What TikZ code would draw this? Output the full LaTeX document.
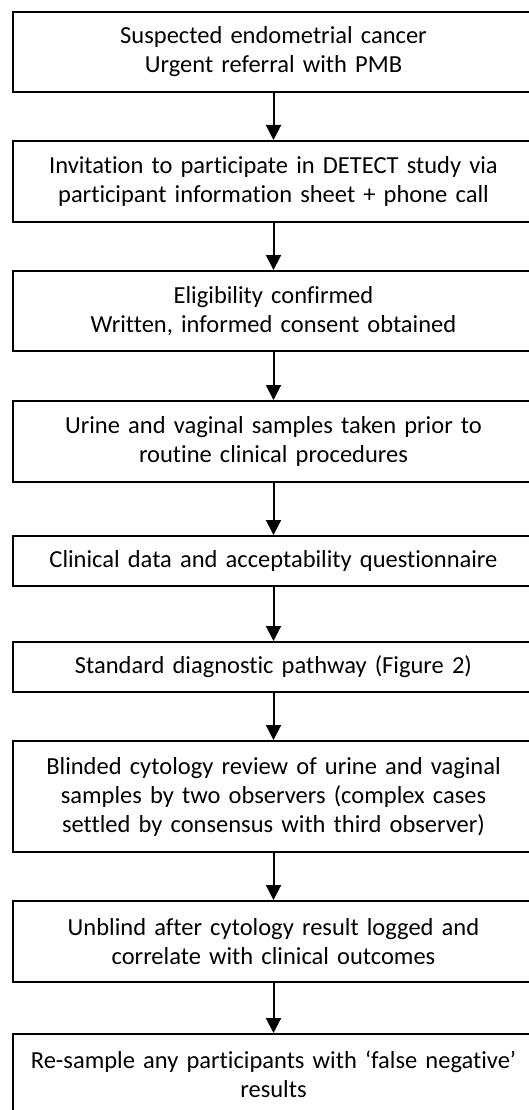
\documentclass[tikz,border=0pt]{standalone}
\usepackage{fontspec}
\setmainfont{Carlito}[Ligatures={NoCommon,NoRequired,NoContextual}]
\usepackage{tikz}
\usetikzlibrary{arrows.meta,positioning}

\begin{document}
\begin{tikzpicture}[x=1pt,y=-1pt,
  stepbox/.style={draw,line width=2pt,inner sep=0pt,minimum width=522,text width=510,align=center,font=\fontsize{24.5}{29}\selectfont},
  flow/.style={line width=2pt,-{Triangle[width=15pt,length=15pt]}}]
\useasboundingbox (0,0) rectangle (528,1110);
\pgfmathsetmacro\cx{273.5}

\node[stepbox,minimum height=80] (A) at (\cx,52) {Suspected endometrial cancer\\Urgent referral with PMB};%
\node[stepbox,minimum height=81] (B) at (\cx,181.5) {Invitation to participate in DETECT study via\\participant information sheet + phone call};%
\node[stepbox,minimum height=80] (C) at (\cx,311) {Eligibility confirmed\\Written, informed consent obtained};%
\node[stepbox,minimum height=81] (D) at (\cx,441.5) {Urine and vaginal samples taken prior to\\routine clinical procedures};%
\node[stepbox,minimum height=50] (E) at (\cx,561) {Clinical data and acceptability questionnaire};%
\node[stepbox,minimum height=50] (F) at (\cx,667) {Standard diagnostic pathway (Figure 2)};%
\node[stepbox,minimum height=111] (G) at (\cx,796.5) {Blinded cytology review of urine and vaginal\\samples by two observers (complex cases\\settled by consensus with third observer)};%
\node[stepbox,minimum height=81] (H) at (\cx,941.5) {Unblind after cytology result logged and\\correlate with clinical outcomes};%
\node[stepbox,minimum height=80] (I) at (\cx,1074) {Re-sample any participants with `false negative'\\results};%

\foreach \u/\v in {A/B,B/C,C/D,D/E,E/F,F/G,G/H,H/I}
  \draw[flow] (\u) -- (\v);

\end{tikzpicture}
\end{document}
